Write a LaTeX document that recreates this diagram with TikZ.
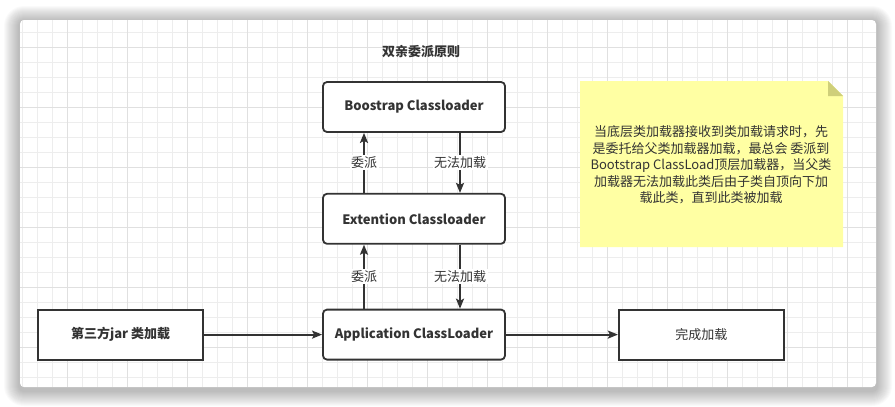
\documentclass[tikz,border=0pt]{standalone}
\usepackage{fontspec}
\setmainfont{Noto Sans CJK SC}
\usetikzlibrary{positioning,arrows.meta}
\definecolor{ink}{HTML}{333333}
\definecolor{gridminor}{HTML}{EDEDED}
\definecolor{gridmajor}{HTML}{E0E0E0}
\definecolor{notefill}{HTML}{FFFFA3}
\definecolor{notefold}{HTML}{CFCF7A}
\tikzset{
  loaderbox/.style={draw=ink, line width=1.8pt, rounded corners=4pt, fill=white, align=center, minimum width=182pt, minimum height=50pt, font=\bfseries\fontsize{13}{15}\selectfont, text=ink},
  plainbox/.style={draw=ink, line width=1.8pt, fill=white, align=center, minimum width=165pt, minimum height=50pt, font=\fontsize{13}{15}\selectfont, text=ink},
  flowarrow/.style={-{Stealth[length=10pt,width=8pt,inset=2pt]}, line width=1.8pt, draw=ink},
  edgelabel/.style={fill=white, inner sep=1.5pt, font=\fontsize{13}{15}\selectfont, text=ink}
}

\begin{document}
\begin{tikzpicture}[x=1pt,y=-1pt]
  \useasboundingbox (0,0) rectangle (895,407);
  % card with soft shadow
  \foreach \s in {2,...,16}
    \fill[black, opacity=0.018, rounded corners=4pt+\s pt] (20-\s,22-\s) rectangle (876+\s,390+\s);
  \fill[white, rounded corners=4pt] (20,20) rectangle (876,387);
  \begin{scope}
    \clip[rounded corners=4pt] (20,20) rectangle (876,387);
    \foreach \x in {22,37,...,876} \draw[gridminor, line width=1pt] (\x,20) -- (\x,387);
    \foreach \y in {32,47,...,387} \draw[gridminor, line width=1pt] (20,\y) -- (876,\y);
    \foreach \x in {67,127,...,876} \draw[gridmajor, line width=1pt] (\x,20) -- (\x,387);
    \foreach \y in {47,107,...,387} \draw[gridmajor, line width=1pt] (20,\y) -- (876,\y);
  \end{scope}

  \node[font=\bfseries\fontsize{13}{15}\selectfont, text=ink] (title) at (421,52) {双亲委派原则};
  \node[loaderbox] (boot) at (414,107) {Boostrap Classloader};
  \node[loaderbox, below=60pt of boot] (ext) {Extention Classloader};
  \node[loaderbox, below=64pt of ext] (app) {Application ClassLoader};
  \node[plainbox, left=118pt of app, font=\bfseries\fontsize{13}{15}\selectfont] (jar) {第三方jar 类加载};
  \node[plainbox, right=112pt of app] (done) {完成加载};

  \draw[flowarrow] ([xshift=-50pt]ext.north) -- ([xshift=-50pt]boot.south) node[edgelabel, midway] (up1) {委派};
  \draw[flowarrow] ([xshift=46pt]boot.south) -- ([xshift=46pt]ext.north) node[edgelabel, midway] (down1) {无法加载};
  \draw[flowarrow] ([xshift=-50pt]app.north) -- ([xshift=-50pt]ext.south) node[edgelabel, midway] (up2) {委派};
  \draw[flowarrow] ([xshift=46pt]ext.south) -- ([xshift=46pt]app.north) node[edgelabel, midway] (down2) {无法加载};
  \draw[flowarrow] (jar) -- (app);
  \draw[flowarrow] (app) -- (done);

  % note with folded corner
  \fill[notefill] (580,81) -- (828,81) -- (843,96) -- (843,247) -- (580,247) -- cycle;
  \fill[notefold] (828,81) -- (843,96) -- (828,96) -- cycle;
  \node[text=ink, align=center, font=\fontsize{13}{16.5}\selectfont] (note) at (711,165) {当底层类加载器接收到类加载请求时，先\\是委托给父类加载器加载，最总会 委派到\\Bootstrap ClassLoad顶层加载器，当父类\\加载器无法加载此类后由子类自顶向下加\\载此类，直到此类被加载};
\end{tikzpicture}
\end{document}
